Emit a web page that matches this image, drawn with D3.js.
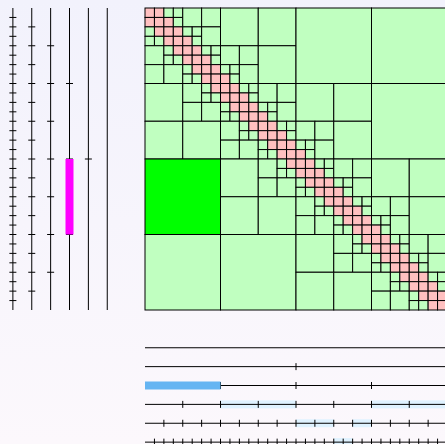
<!DOCTYPE html>
<html>
<head>
<meta charset="utf-8">
<script src="https://cdn.jsdelivr.net/npm/d3@7"></script>
<style>
  html, body { margin: 0; padding: 0; }
  svg { display: block; }
</style>
</head>
<body>
<div class="svgContainer"></div>
<script>
var width = 445,
	height = 444,
	margin = {top: 8, left: 145},
	size = 302;

// cluster tree: 32 leaves, 5 levels below the root
var nLeaves = 32,
	depth = 5,
	eta = 2;   // block (i,j) admissible when |i-j| >= eta

// selected block: row cluster and column cluster on level 2
var selLevel = 2,
	selRow = 2,
	selCol = 0;

// column clusters shaded light blue, per level
var lightLevels = [3, 4, 5],
	lightClusters = [[2, 3, 6, 7], [8, 9, 11], [20, 21]];

var svg = d3.select("div.svgContainer")
		.append("svg")
		.attr("width", width)
		.attr("height", height);

var grad = svg.append("defs").append("linearGradient")
		.attr("id", "bg")
		.attr("x1", 0).attr("y1", 0).attr("x2", 0).attr("y2", 1);
grad.append("stop").attr("offset", "0%").attr("stop-color", "rgb(242,242,252)");
grad.append("stop").attr("offset", "100%").attr("stop-color", "rgb(252,248,252)");

svg.append("rect")
	.attr("width", width).attr("height", height)
	.attr("fill", "url(#bg)");

var x = d3.scaleLinear().domain([0, nLeaves]).range([margin.left, margin.left + size]),
	y = d3.scaleLinear().domain([0, nLeaves]).range([margin.top, margin.top + size]),
	step = size / 16;

// tree positions: level 0 closest to the matrix
var treeX = function(l) { return margin.left - (l + 2) * step; },
	treeY = function(l) { return margin.top + size + (l + 2) * step; };

// build the block partition
var blocks = [];
function build(l, i, j) {
	if (Math.abs(i - j) >= eta) {
		blocks.push({l: l, i: i, j: j, type: "adm"});
	} else if (l == depth) {
		blocks.push({l: l, i: i, j: j, type: "dense"});
	} else {
		for (var a = 0; a < 2; a++)
			for (var b = 0; b < 2; b++)
				build(l + 1, 2 * i + a, 2 * j + b);
	}
}
build(0, 0, 0);

var color = function(d) {
	if (d.l == selLevel && d.i == selRow && d.j == selCol) return "#00ff00";
	return d.type == "adm" ? "#c0ffc0" : "#ffc0c0";
};

var span = function(l) { return Math.pow(2, depth - l); };

svg.append("g").selectAll("rect")
	.data(blocks)
	.enter().append("rect")
	.attr("x", function(d) { return x(d.j * span(d.l)); })
	.attr("y", function(d) { return y(d.i * span(d.l)); })
	.attr("width", function(d) { return x(span(d.l)) - x(0); })
	.attr("height", function(d) { return y(span(d.l)) - y(0); })
	.attr("fill", color)
	.attr("stroke", "#000")
	.attr("stroke-width", 1);

var levels = d3.range(depth + 1),
	barW = 8,
	tick = 3.5;

// light highlights under the column tree lines
lightLevels.forEach(function(l, k) {
	svg.append("g").selectAll("rect")
		.data(lightClusters[k])
		.enter().append("rect")
		.attr("x", function(c) { return x(c * span(l)); })
		.attr("y", treeY(l) - barW / 2)
		.attr("width", x(span(l)) - x(0))
		.attr("height", barW)
		.attr("fill", "#dff2ff");
});

// tree lines
var rowTree = svg.append("g"),
	colTree = svg.append("g");

rowTree.selectAll("line")
	.data(levels)
	.enter().append("line")
	.attr("x1", treeX).attr("x2", treeX)
	.attr("y1", y(0)).attr("y2", y(nLeaves))
	.attr("stroke", "#000");

colTree.selectAll("line")
	.data(levels)
	.enter().append("line")
	.attr("y1", treeY).attr("y2", treeY)
	.attr("x1", x(0)).attr("x2", x(nLeaves))
	.attr("stroke", "#000");

// selected clusters
svg.append("rect")
	.attr("x", treeX(selLevel) - barW / 2)
	.attr("y", y(selRow * span(selLevel)))
	.attr("width", barW)
	.attr("height", y(span(selLevel)) - y(0))
	.attr("fill", "#ff00ff");

svg.append("rect")
	.attr("x", x(selCol * span(selLevel)))
	.attr("y", treeY(selLevel) - barW / 2)
	.attr("width", x(span(selLevel)) - x(0))
	.attr("height", barW)
	.attr("fill", "#66b5f2");

// ticks at the internal cluster boundaries
levels.forEach(function(l) {
	var bounds = d3.range(1, Math.pow(2, l)).map(function(k) { return k * span(l); });

	rowTree.append("g").selectAll("line")
		.data(bounds)
		.enter().append("line")
		.attr("x1", treeX(l) - tick).attr("x2", treeX(l) + tick)
		.attr("y1", y).attr("y2", y)
		.attr("stroke", "#000");

	colTree.append("g").selectAll("line")
		.data(bounds)
		.enter().append("line")
		.attr("y1", treeY(l) - tick).attr("y2", treeY(l) + tick)
		.attr("x1", x).attr("x2", x)
		.attr("stroke", "#000");
});
</script>
</body>
</html>
